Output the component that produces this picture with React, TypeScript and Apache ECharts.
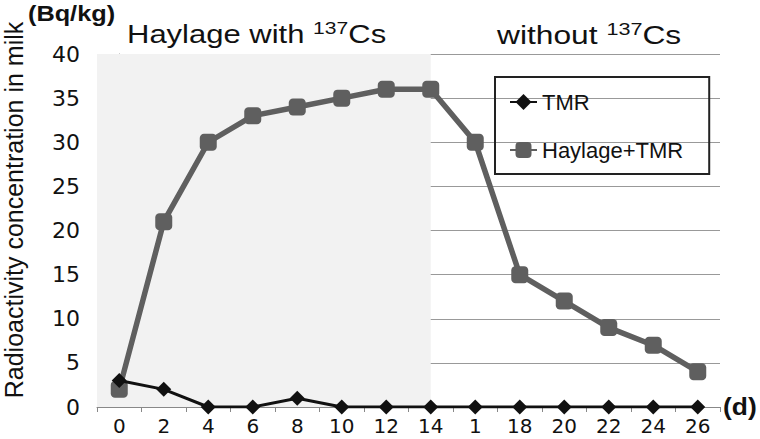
import React, { useEffect, useRef } from "react";
import * as echarts from "echarts";

const categories = ["0", "2", "4", "6", "8", "10", "12", "14", "1", "18", "20", "22", "24", "26"];
const tmrValues = [3, 2, 0, 0, 1, 0, 0, 0, 0, 0, 0, 0, 0, 0];
const haylageValues = [2, 21, 30, 33, 34, 35, 36, 36, 30, 15, 12, 9, 7, 4];
const yTicks = { min: 0, max: 40, interval: 5 };
const shadeEndCategory = "14";

const FONT = "'Liberation Sans', Arial, sans-serif";
const WIDE = "'DejaVu Sans', sans-serif";

export default function App() {
  const ref = useRef<HTMLDivElement>(null);
  useEffect(() => {
    if (!ref.current) return;
    const chart = echarts.init(ref.current, undefined, { renderer: "svg" });
    const shadeEnd = categories.indexOf(shadeEndCategory);
    const richTitle = {
      m: { fontSize: 25, fill: "#111", fontFamily: FONT, lineHeight: 30 },
      s: { fontSize: 17, fill: "#111", fontFamily: FONT, lineHeight: 30, verticalAlign: "top", padding: [0, 0, 12, 0] },
    };
    chart.setOption({
      animation: false,
      backgroundColor: "#ffffff",
      textStyle: { fontFamily: FONT },
      grid: { left: 97, right: 40, top: 54, bottom: 32, containLabel: false },
      legend: {
        orient: "vertical",
        left: 495,
        top: 77,
        padding: [14, 26, 13, 14],
        itemGap: 26,
        itemWidth: 27,
        itemHeight: 20,
        borderColor: "#222",
        borderWidth: 2,
        borderRadius: 0,
        textStyle: { fontSize: 22, color: "#111", fontFamily: FONT },
        data: ["TMR", "Haylage+TMR"],
      },
      xAxis: [
        {
          type: "category",
          data: categories,
          boundaryGap: true,
          axisLine: { lineStyle: { color: "#888", width: 1 } },
          axisTick: { show: true, interval: 0, length: 5, lineStyle: { color: "#888" } },
          axisLabel: { fontSize: 20, color: "#111", margin: 9, interval: 0, fontFamily: WIDE },
        },
        {
          type: "value",
          min: -0.5,
          max: categories.length - 0.5,
          show: false,
        },
      ],
      yAxis: {
        type: "value",
        min: yTicks.min,
        max: yTicks.max,
        interval: yTicks.interval,
        axisLine: { show: true, lineStyle: { color: "#888" } },
        axisTick: { show: true, length: 7, lineStyle: { color: "#888" } },
        axisLabel: { fontSize: 22, color: "#111", margin: 17, fontFamily: WIDE },
        splitLine: { show: true, lineStyle: { color: "#999", width: 1 } },
      },
      graphic: [
        {
          type: "text",
          x: 14,
          y: 210,
          rotation: Math.PI / 2,
          style: {
            text: "Radioactivity concentration in milk",
            fontSize: 25,
            fill: "#111",
            fontFamily: FONT,
            align: "center",
            verticalAlign: "middle",
          },
        },
        {
          type: "text",
          x: 28,
          y: 3,
          scaleX: 1.15,
          style: { text: "(Bq/kg)", fontSize: 22, fontWeight: "bold", fill: "#111", fontFamily: FONT },
        },
        {
          type: "text",
          x: 127,
          y: 20,
          scaleX: 1.24,
          style: { text: "{m|Haylage with }{s|137}{m|Cs}", rich: richTitle },
        },
        {
          type: "text",
          x: 497,
          y: 20,
          scaleX: 1.27,
          style: { text: "{m|without }{s|137}{m|Cs}", rich: richTitle },
        },
        {
          type: "text",
          x: 723,
          y: 394,
          scaleX: 1.1,
          style: { text: "(d)", fontSize: 24, fontWeight: "bold", fill: "#111", fontFamily: FONT },
        },
      ],
      series: [
        {
          name: "shade",
          type: "line",
          xAxisIndex: 1,
          data: [],
          z: -1,
          silent: true,
          markArea: {
            silent: true,
            itemStyle: { color: "#f2f2f2" },
            data: [[{ xAxis: -0.5, yAxis: yTicks.min }, { xAxis: shadeEnd, yAxis: yTicks.max }]],
          },
        },
        {
          name: "TMR",
          type: "line",
          data: tmrValues,
          symbol: "diamond",
          symbolSize: 15,
          z: 4,
          lineStyle: { color: "#111", width: 3 },
          itemStyle: { color: "#111" },
        },
        {
          name: "Haylage+TMR",
          type: "line",
          data: haylageValues,
          symbol: "roundRect",
          symbolSize: 17,
          z: 3,
          lineStyle: { color: "#5f5f5f", width: 5.5 },
          itemStyle: { color: "#5f5f5f" },
        },
      ],
    });
    return () => chart.dispose();
  }, []);
  return <div ref={ref} style={{ width: 760, height: 439, position: "absolute", left: 0, top: 0 }} />;
}
